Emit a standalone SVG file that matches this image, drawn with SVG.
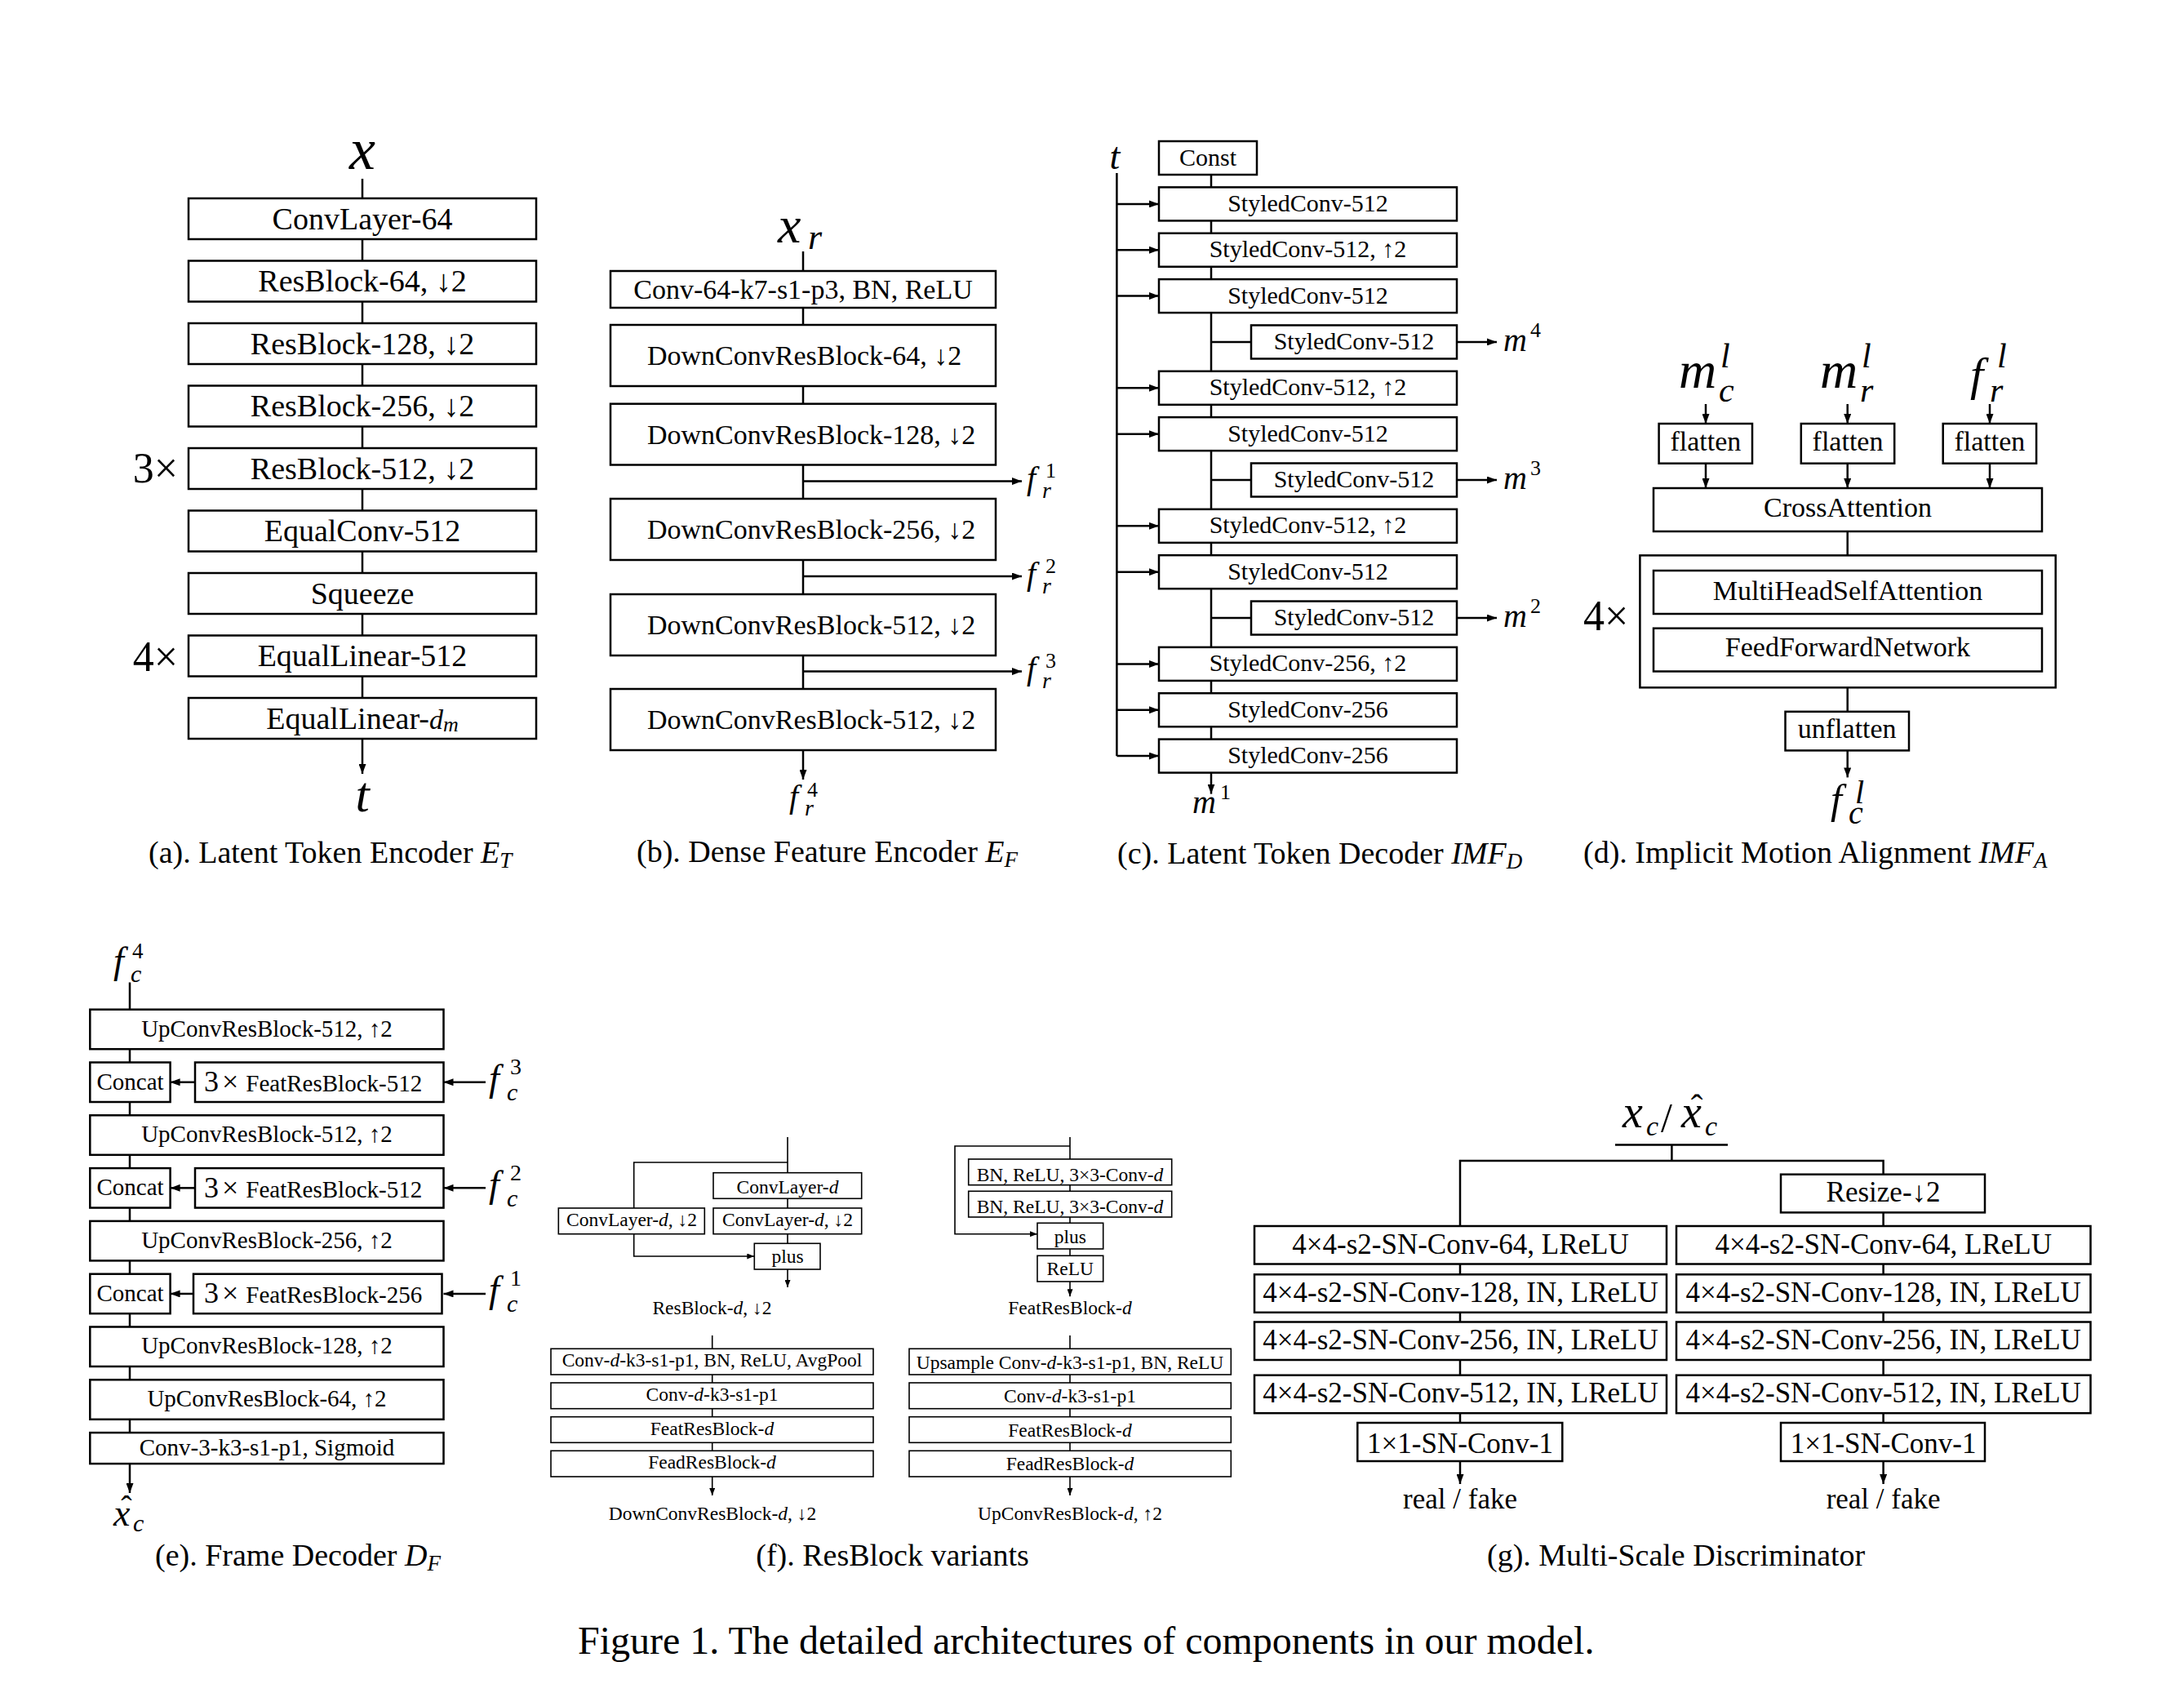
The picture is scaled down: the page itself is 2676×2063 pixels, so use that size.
<svg xmlns="http://www.w3.org/2000/svg" width="2676" height="2063" viewBox="0 0 2676 2063">
<defs>
<style>
text{font-family:"Liberation Serif","Times New Roman",serif;fill:#000}
.m{text-anchor:middle}
.i{font-style:italic}
rect.n{fill:#fff;stroke:#000;stroke-width:2.5}
rect.s{fill:#fff;stroke:#000;stroke-width:1.6}
.c{fill:none;stroke:#000;stroke-width:2.5}
.cs{fill:none;stroke:#000;stroke-width:1.6}
.a{marker-end:url(#ah)}
.as{marker-end:url(#ahs)}
.fa{font-size:38px}.fb{font-size:34px}.fc{font-size:30px}.fd{font-size:34px}.fe{font-size:29px}.ff{font-size:23.5px}.fg{font-size:35px}
.cap{font-size:38px}
</style>
<marker id="ah" viewBox="0 0 12 9" refX="12" refY="4.5" markerWidth="12" markerHeight="9" markerUnits="userSpaceOnUse" orient="auto"><path d="M0,0 L12,4.5 L0,9 z" fill="#000"/></marker>
<marker id="ahs" viewBox="0 0 9 7" refX="9" refY="3.5" markerWidth="9" markerHeight="7" markerUnits="userSpaceOnUse" orient="auto"><path d="M0,0 L9,3.5 L0,7 z" fill="#000"/></marker>
</defs>
<rect x="0" y="0" width="2676" height="2063" fill="#fff"/>

<g id="connectors">
<!-- (a) -->
<path class="c" d="M444,219V243 M444,293V319.5 M444,369.5V396 M444,446V472.5 M444,522.5V549 M444,599V625.5 M444,675.5V702 M444,752V778.5 M444,828.5V855"/>
<path class="c a" d="M444,905V948"/>
<!-- (b) -->
<path class="c" d="M984,308V332 M984,377V398 M984,473V494.7 M984,569.5V611 M984,686V728 M984,803V844"/>
<path class="c a" d="M984,919V955"/>
<path class="c a" d="M984,589.6H1252"/>
<path class="c a" d="M984,706H1252"/>
<path class="c a" d="M984,822.6H1252"/>
<!-- (c) -->
<path class="c" d="M1368.4,212V926.1"/>
<path class="c" d="M1484,214V946.5"/>
<path class="c a" d="M1368.4,249.9H1420"/>
<path class="c a" d="M1368.4,306.25H1420"/>
<path class="c a" d="M1368.4,362.6H1420"/>
<path class="c a" d="M1368.4,475.3H1420"/>
<path class="c a" d="M1368.4,531.65H1420"/>
<path class="c a" d="M1368.4,644.35H1420"/>
<path class="c a" d="M1368.4,700.7H1420"/>
<path class="c a" d="M1368.4,813.4H1420"/>
<path class="c a" d="M1368.4,869.75H1420"/>
<path class="c a" d="M1368.4,926.1H1420"/>
<path class="c" d="M1484,418.95H1533 M1484,588H1533 M1484,757.05H1533"/>
<path class="c a" d="M1785,418.95H1834"/>
<path class="c a" d="M1785,588H1834"/>
<path class="c a" d="M1785,757.05H1834"/>
<path class="c a" d="M1484,946.5V972.6"/>
<!-- (d) -->
<path class="c a" d="M2090,495V519"/>
<path class="c a" d="M2263.7,495V519"/>
<path class="c a" d="M2438,495V519"/>
<path class="c a" d="M2090,567.7V598"/>
<path class="c a" d="M2263.7,567.7V598"/>
<path class="c a" d="M2438,567.7V598"/>
<path class="c" d="M2263.7,651V680.4 M2263.7,842.3V871.8"/>
<path class="c a" d="M2263.7,919.4V952.4"/>
<!-- (e) -->
<path class="c" d="M159,1203.6V1793"/>
<path class="c a" d="M159,1793V1829"/>
<path class="c a" d="M239,1325.75H208.6"/>
<path class="c a" d="M239,1455.35H208.6"/>
<path class="c a" d="M239,1584.95H208.6"/>
<path class="c a" d="M595,1325.75H543.5"/>
<path class="c a" d="M595,1455.35H543.5"/>
<path class="c a" d="M595,1584.95H543.5"/>
<!-- (f) -->
<path class="cs" d="M965,1393V1436.7 M965,1424H776.7V1480 M965,1468.3V1480 M965,1511.7V1523.3"/>
<path class="cs as" d="M776.7,1511.7V1539H924.3"/>
<path class="cs as" d="M965,1555V1577"/>
<path class="cs" d="M872.7,1636V1652.3 M872.7,1684V1694 M872.7,1725.7V1735.7 M872.7,1767.3V1777.3"/>
<path class="cs as" d="M872.7,1809V1832"/>
<path class="cs" d="M1311,1393V1420 M1311,1451.7V1459.3 M1311,1491V1498.3 M1311,1530V1538.3"/>
<path class="cs as" d="M1311,1404H1170V1511.7H1271"/>
<path class="cs as" d="M1311,1570V1588.3"/>
<path class="cs" d="M1311,1636V1652.3 M1311,1684V1694 M1311,1725.7V1735.7 M1311,1767.3V1777.3"/>
<path class="cs as" d="M1311,1809V1832"/>
<!-- (g) -->
<path class="c" d="M1979,1402.4H2117 M2048.4,1402.4V1422 M1789,1502V1422H2307.6V1438.7 M2307.6,1485.4V1502"/>
<path class="c" d="M1789,1548.5V1561.3 M1789,1607.8V1619.5 M1789,1666V1684.7 M1789,1731.2V1743"/>
<path class="c" d="M2307.6,1548.5V1561.3 M2307.6,1607.8V1619.5 M2307.6,1666V1684.7 M2307.6,1731.2V1743"/>
<path class="c a" d="M1789,1790V1818"/>
<path class="c a" d="M2307.6,1790V1818"/>
</g>

<!-- ===== (a) Latent Token Encoder ===== -->
<g id="panel-a">
<text class="m i" x="444" y="207" font-size="72">x</text>
<g id="a1"><rect class="n" x="231" y="243" width="426" height="50"/><text class="m fa" x="444" y="280.5">ConvLayer-64</text></g>
<g id="a2"><rect class="n" x="231" y="319.5" width="426" height="50"/><text class="m fa" x="444" y="357">ResBlock-64, ↓2</text></g>
<g id="a3"><rect class="n" x="231" y="396" width="426" height="50"/><text class="m fa" x="444" y="433.5">ResBlock-128, ↓2</text></g>
<g id="a4"><rect class="n" x="231" y="472.5" width="426" height="50"/><text class="m fa" x="444" y="510">ResBlock-256, ↓2</text></g>
<g id="a5"><rect class="n" x="231" y="549" width="426" height="50"/><text class="m fa" x="444" y="586.5">ResBlock-512, ↓2</text></g>
<g id="a6"><rect class="n" x="231" y="625.5" width="426" height="50"/><text class="m fa" x="444" y="663">EqualConv-512</text></g>
<g id="a7"><rect class="n" x="231" y="702" width="426" height="50"/><text class="m fa" x="444" y="739.5">Squeeze</text></g>
<g id="a8"><rect class="n" x="231" y="778.5" width="426" height="50"/><text class="m fa" x="444" y="816">EqualLinear-512</text></g>
<g id="a9"><rect class="n" x="231" y="855" width="426" height="50"/><text class="m fa" x="444" y="892.5">EqualLinear-<tspan class="i" font-size="34">d</tspan><tspan class="i" font-size="26" dy="3">m</tspan></text></g>
<text x="218" y="591" font-size="52" text-anchor="end">3×</text>
<text x="218" y="822" font-size="52" text-anchor="end">4×</text>
<text class="m i" x="444" y="994" font-size="62">t</text>
<text class="cap" x="182" y="1057">(a). Latent Token Encoder <tspan class="i">E</tspan><tspan class="i" font-size="27" dy="6">T</tspan></text>
</g>

<!-- ===== (b) Dense Feature Encoder ===== -->
<g id="panel-b">
<text class="i" x="953" y="297" font-size="64">x</text><text class="i" x="990" y="305" font-size="44">r</text>
<g id="b1"><rect class="n" x="748" y="332" width="472" height="45"/><text class="m fb" x="984" y="366">Conv-64-k7-s1-p3, BN, ReLU</text></g>
<g id="b2"><rect class="n" x="748" y="398" width="472" height="75"/><text class="fb" x="793" y="447">DownConvResBlock-64, ↓2</text></g>
<g id="b3"><rect class="n" x="748" y="494.7" width="472" height="74.8"/><text class="fb" x="793" y="543.5">DownConvResBlock-128, ↓2</text></g>
<g id="b4"><rect class="n" x="748" y="611" width="472" height="75"/><text class="fb" x="793" y="660">DownConvResBlock-256, ↓2</text></g>
<g id="b5"><rect class="n" x="748" y="728" width="472" height="75"/><text class="fb" x="793" y="777">DownConvResBlock-512, ↓2</text></g>
<g id="b6"><rect class="n" x="748" y="844" width="472" height="75"/><text class="fb" x="793" y="893">DownConvResBlock-512, ↓2</text></g>
<text class="i" x="1258" y="599" font-size="40">f</text><text x="1281" y="585" font-size="26">1</text><text class="i" x="1277" y="610" font-size="28">r</text>
<text class="i" x="1258" y="716" font-size="40">f</text><text x="1281" y="702" font-size="26">2</text><text class="i" x="1277" y="727" font-size="28">r</text>
<text class="i" x="1258" y="832" font-size="40">f</text><text x="1281" y="818" font-size="26">3</text><text class="i" x="1277" y="843" font-size="28">r</text>
<text class="i" x="967" y="989" font-size="40">f</text><text x="989" y="976" font-size="26">4</text><text class="i" x="986" y="999" font-size="28">r</text>
<text class="cap" x="780" y="1056">(b). Dense Feature Encoder <tspan class="i">E</tspan><tspan class="i" font-size="27" dy="6">F</tspan></text>
</g>

<!-- ===== (c) Latent Token Decoder ===== -->
<g id="panel-c">
<text class="m i" x="1366" y="207" font-size="46">t</text>
<g id="c0"><rect class="n" x="1420" y="173" width="120" height="41"/><text class="m fc" x="1480" y="203">Const</text></g>
<g id="c1"><rect class="n" x="1420" y="229.4" width="365" height="41"/><text class="m fc" x="1602.5" y="258.9">StyledConv-512</text></g>
<g id="c2"><rect class="n" x="1420" y="285.75" width="365" height="41"/><text class="m fc" x="1602.5" y="315.25">StyledConv-512, ↑2</text></g>
<g id="c3"><rect class="n" x="1420" y="342.1" width="365" height="41"/><text class="m fc" x="1602.5" y="371.6">StyledConv-512</text></g>
<g id="c4"><rect class="n" x="1533" y="398.45" width="252" height="41"/><text class="m fc" x="1659" y="427.95">StyledConv-512</text></g>
<g id="c5"><rect class="n" x="1420" y="454.8" width="365" height="41"/><text class="m fc" x="1602.5" y="484.3">StyledConv-512, ↑2</text></g>
<g id="c6"><rect class="n" x="1420" y="511.15" width="365" height="41"/><text class="m fc" x="1602.5" y="540.65">StyledConv-512</text></g>
<g id="c7"><rect class="n" x="1533" y="567.5" width="252" height="41"/><text class="m fc" x="1659" y="597">StyledConv-512</text></g>
<g id="c8"><rect class="n" x="1420" y="623.85" width="365" height="41"/><text class="m fc" x="1602.5" y="653.35">StyledConv-512, ↑2</text></g>
<g id="c9"><rect class="n" x="1420" y="680.2" width="365" height="41"/><text class="m fc" x="1602.5" y="709.7">StyledConv-512</text></g>
<g id="c10"><rect class="n" x="1533" y="736.55" width="252" height="41"/><text class="m fc" x="1659" y="766.05">StyledConv-512</text></g>
<g id="c11"><rect class="n" x="1420" y="792.9" width="365" height="41"/><text class="m fc" x="1602.5" y="822.4">StyledConv-256, ↑2</text></g>
<g id="c12"><rect class="n" x="1420" y="849.25" width="365" height="41"/><text class="m fc" x="1602.5" y="878.75">StyledConv-256</text></g>
<g id="c13"><rect class="n" x="1420" y="905.6" width="365" height="41"/><text class="m fc" x="1602.5" y="935.1">StyledConv-256</text></g>
<text class="i" x="1842" y="430" font-size="40">m</text><text x="1875" y="413" font-size="26">4</text>
<text class="i" x="1842" y="599" font-size="40">m</text><text x="1875" y="582" font-size="26">3</text>
<text class="i" x="1842" y="768" font-size="40">m</text><text x="1875" y="751" font-size="26">2</text>
<text class="i" x="1461" y="996" font-size="40">m</text><text x="1495" y="979" font-size="26">1</text>
<text class="cap" x="1369" y="1058">(c). Latent Token Decoder <tspan class="i">IMF</tspan><tspan class="i" font-size="27" dy="6">D</tspan></text>
</g>

<!-- ===== (d) Implicit Motion Alignment ===== -->
<g id="panel-d">
<text class="i" x="2057" y="475" font-size="64">m</text><text class="i" x="2108" y="450" font-size="42">l</text><text class="i" x="2106" y="492" font-size="42">c</text>
<text class="i" x="2230" y="475" font-size="64">m</text><text class="i" x="2281" y="450" font-size="42">l</text><text class="i" x="2279" y="492" font-size="42">r</text>
<text class="i" x="2414" y="478" font-size="58">f</text><text class="i" x="2447" y="450" font-size="42">l</text><text class="i" x="2438" y="492" font-size="42">r</text>
<g id="d1"><rect class="n" x="2032.6" y="519" width="114.4" height="48.7"/><text class="m fd" x="2089.8" y="552">flatten</text></g>
<g id="d2"><rect class="n" x="2206.8" y="519" width="114.4" height="48.7"/><text class="m fd" x="2264" y="552">flatten</text></g>
<g id="d3"><rect class="n" x="2380.7" y="519" width="114.4" height="48.7"/><text class="m fd" x="2437.9" y="552">flatten</text></g>
<g id="d4"><rect class="n" x="2026" y="598" width="476" height="53"/><text class="m fd" x="2264" y="633">CrossAttention</text></g>
<g id="d5"><rect class="n" x="2009.4" y="680.4" width="509.3" height="161.9"/>
<rect class="n" x="2026" y="699" width="476" height="53"/><text class="m fd" x="2264" y="734.5">MultiHeadSelfAttention</text>
<rect class="n" x="2026" y="769.7" width="476" height="52.8"/><text class="m fd" x="2264" y="804">FeedForwardNetwork</text></g>
<text x="1940" y="772" font-size="52">4×</text>
<g id="d6"><rect class="n" x="2187.5" y="871.8" width="151.5" height="47.6"/><text class="m fd" x="2263.2" y="904">unflatten</text></g>
<text class="i" x="2243" y="996" font-size="50">f</text><text class="i" x="2273" y="984" font-size="40">l</text><text class="i" x="2265" y="1009" font-size="40">c</text>
<text class="cap" x="1940" y="1057">(d). Implicit Motion Alignment <tspan class="i">IMF</tspan><tspan class="i" font-size="27" dy="6">A</tspan></text>
</g>

<!-- ===== (e) Frame Decoder ===== -->
<g id="panel-e">
<text class="i" x="139" y="1192" font-size="46">f</text><text x="162" y="1174" font-size="27">4</text><text class="i" x="160" y="1203" font-size="30">c</text>
<g id="e1"><rect class="n" x="110.3" y="1236.7" width="433.2" height="48.5"/><text class="m fe" x="327" y="1269.5">UpConvResBlock-512, ↑2</text></g>
<g id="e2a"><rect class="n" x="110.3" y="1301.5" width="98.3" height="48.5"/><text class="m fe" x="159.5" y="1334.5">Concat</text></g>
<g id="e2b"><rect class="n" x="239" y="1301.5" width="304.5" height="48.5"/><text x="250" y="1337"><tspan font-size="36">3</tspan><tspan font-size="36" dx="4">×</tspan><tspan font-size="29" dx="9">FeatResBlock-512</tspan></text></g>
<g id="e3"><rect class="n" x="110.3" y="1366.3" width="433.2" height="48.5"/><text class="m fe" x="327" y="1399">UpConvResBlock-512, ↑2</text></g>
<g id="e4a"><rect class="n" x="110.3" y="1431.1" width="98.3" height="48.5"/><text class="m fe" x="159.5" y="1464">Concat</text></g>
<g id="e4b"><rect class="n" x="239" y="1431.1" width="304.5" height="48.5"/><text x="250" y="1466.5"><tspan font-size="36">3</tspan><tspan font-size="36" dx="4">×</tspan><tspan font-size="29" dx="9">FeatResBlock-512</tspan></text></g>
<g id="e5"><rect class="n" x="110.3" y="1495.9" width="433.2" height="48.5"/><text class="m fe" x="327" y="1528.7">UpConvResBlock-256, ↑2</text></g>
<g id="e6a"><rect class="n" x="110.3" y="1560.7" width="98.3" height="48.5"/><text class="m fe" x="159.5" y="1593.5">Concat</text></g>
<g id="e6b"><rect class="n" x="237" y="1560.7" width="304.5" height="48.5"/><text x="250" y="1596"><tspan font-size="36">3</tspan><tspan font-size="36" dx="4">×</tspan><tspan font-size="29" dx="9">FeatResBlock-256</tspan></text></g>
<g id="e7"><rect class="n" x="110.3" y="1625.5" width="433.2" height="48.5"/><text class="m fe" x="327" y="1658.3">UpConvResBlock-128, ↑2</text></g>
<g id="e8"><rect class="n" x="110.3" y="1690.3" width="433.2" height="48.5"/><text class="m fe" x="327" y="1723">UpConvResBlock-64, ↑2</text></g>
<g id="e9"><rect class="n" x="110.3" y="1755.1" width="433.2" height="38"/><text class="m fe" x="327" y="1783">Conv-3-k3-s1-p1, Sigmoid</text></g>
<text class="i" x="599" y="1336" font-size="46">f</text><text x="625" y="1316" font-size="28">3</text><text class="i" x="621" y="1348" font-size="30">c</text>
<text class="i" x="599" y="1465.5" font-size="46">f</text><text x="625" y="1445.5" font-size="28">2</text><text class="i" x="621" y="1477.5" font-size="30">c</text>
<text class="i" x="599" y="1595" font-size="46">f</text><text x="625" y="1575" font-size="28">1</text><text class="i" x="621" y="1607" font-size="30">c</text>
<text class="i" x="139" y="1869" font-size="46">x</text><text class="m" x="155" y="1860" font-size="40">ˆ</text><text class="i" x="163" y="1876" font-size="30">c</text>
<text class="cap" x="190" y="1918">(e). Frame Decoder <tspan class="i">D</tspan><tspan class="i" font-size="27" dy="6">F</tspan></text>
</g>

<!-- ===== (f) ResBlock variants ===== -->
<g id="panel-f">
<g id="f1"><rect class="s" x="874" y="1436.7" width="181.7" height="31.6"/><text class="m ff" x="965" y="1461.5">ConvLayer-<tspan class="i">d</tspan></text></g>
<g id="f2"><rect class="s" x="874" y="1480" width="181.7" height="31.7"/><text class="m ff" x="965" y="1501.7">ConvLayer-<tspan class="i">d</tspan>, ↓2</text></g>
<g id="f3"><rect class="s" x="684.3" y="1480" width="179" height="31.7"/><text class="m ff" x="774" y="1501.7">ConvLayer-<tspan class="i">d</tspan>, ↓2</text></g>
<g id="f4"><rect class="s" x="924.3" y="1523.3" width="80.7" height="31.7"/><text class="m ff" x="965" y="1546.5">plus</text></g>
<text class="m ff" x="872.5" y="1610">ResBlock-<tspan class="i">d</tspan>, ↓2</text>
<g id="f5"><rect class="s" x="675" y="1652.3" width="395" height="31.7"/><text class="m ff" x="872.5" y="1674">Conv-<tspan class="i">d</tspan>-k3-s1-p1, BN, ReLU, AvgPool</text></g>
<g id="f6"><rect class="s" x="675" y="1694" width="395" height="31.7"/><text class="m ff" x="872.5" y="1716">Conv-<tspan class="i">d</tspan>-k3-s1-p1</text></g>
<g id="f7"><rect class="s" x="675" y="1735.7" width="395" height="31.6"/><text class="m ff" x="872.5" y="1757.5">FeatResBlock-<tspan class="i">d</tspan></text></g>
<g id="f8"><rect class="s" x="675" y="1777.3" width="395" height="31.7"/><text class="m ff" x="872.5" y="1799">FeadResBlock-<tspan class="i">d</tspan></text></g>
<text class="m ff" x="873" y="1862">DownConvResBlock-<tspan class="i">d</tspan>, ↓2</text>
<g id="f9"><rect class="s" x="1186.7" y="1420" width="249" height="31.7"/><text class="m ff" x="1311" y="1446.5">BN, ReLU, 3×3-Conv-<tspan class="i">d</tspan></text></g>
<g id="f10"><rect class="s" x="1186.7" y="1459.3" width="249" height="31.7"/><text class="m ff" x="1311" y="1486">BN, ReLU, 3×3-Conv-<tspan class="i">d</tspan></text></g>
<g id="f11"><rect class="s" x="1271" y="1498.3" width="80.7" height="31.7"/><text class="m ff" x="1311.3" y="1523">plus</text></g>
<g id="f12"><rect class="s" x="1271" y="1538.3" width="80.7" height="31.7"/><text class="m ff" x="1311.3" y="1561.5">ReLU</text></g>
<text class="m ff" x="1311" y="1610">FeatResBlock-<tspan class="i">d</tspan></text>
<g id="f13"><rect class="s" x="1114" y="1652.3" width="394.3" height="31.7"/><text class="m ff" x="1311" y="1676.5">Upsample Conv-<tspan class="i">d</tspan>-k3-s1-p1, BN, ReLU</text></g>
<g id="f14"><rect class="s" x="1114" y="1694" width="394.3" height="31.7"/><text class="m ff" x="1311" y="1718">Conv-<tspan class="i">d</tspan>-k3-s1-p1</text></g>
<g id="f15"><rect class="s" x="1114" y="1735.7" width="394.3" height="31.6"/><text class="m ff" x="1311" y="1759.5">FeatResBlock-<tspan class="i">d</tspan></text></g>
<g id="f16"><rect class="s" x="1114" y="1777.3" width="394.3" height="31.7"/><text class="m ff" x="1311" y="1800.5">FeadResBlock-<tspan class="i">d</tspan></text></g>
<text class="m ff" x="1311" y="1862">UpConvResBlock-<tspan class="i">d</tspan>, ↑2</text>
<text class="cap m" x="1093.5" y="1918">(f). ResBlock variants</text>
</g>

<!-- ===== (g) Multi-Scale Discriminator ===== -->
<g id="panel-g">
<text class="i" x="1988" y="1381" font-size="56">x</text><text class="i" x="2017" y="1391" font-size="34">c</text>
<text x="2035" y="1386" font-size="50">/</text>
<text class="i" x="2060" y="1381" font-size="56">x</text><text class="m" x="2079" y="1371" font-size="44">ˆ</text><text class="i" x="2089" y="1391" font-size="34">c</text>
<g id="g0"><rect class="n" x="2182" y="1438.7" width="250" height="46.7"/><text class="m fg" x="2307.6" y="1472.3">Resize-↓2</text></g>
<g id="g1"><rect class="n" x="1537" y="1502" width="505" height="46.5"/><text class="m fg" x="1789.5" y="1535.6">4×4-s2-SN-Conv-64, LReLU</text></g>
<g id="g2"><rect class="n" x="1537" y="1561.3" width="505" height="46.5"/><text class="m fg" x="1789.5" y="1595">4×4-s2-SN-Conv-128, IN, LReLU</text></g>
<g id="g3"><rect class="n" x="1537" y="1619.5" width="505" height="46.5"/><text class="m fg" x="1789.5" y="1653.4">4×4-s2-SN-Conv-256, IN, LReLU</text></g>
<g id="g4"><rect class="n" x="1537" y="1684.7" width="505" height="46.5"/><text class="m fg" x="1789.5" y="1717.5">4×4-s2-SN-Conv-512, IN, LReLU</text></g>
<g id="g5"><rect class="n" x="1663.3" y="1743" width="251" height="47"/><text class="m fg" x="1789" y="1780">1×1-SN-Conv-1</text></g>
<g id="g6"><rect class="n" x="2054" y="1502" width="507.5" height="46.5"/><text class="m fg" x="2307.7" y="1535.6">4×4-s2-SN-Conv-64, LReLU</text></g>
<g id="g7"><rect class="n" x="2054" y="1561.3" width="507.5" height="46.5"/><text class="m fg" x="2307.7" y="1595">4×4-s2-SN-Conv-128, IN, LReLU</text></g>
<g id="g8"><rect class="n" x="2054" y="1619.5" width="507.5" height="46.5"/><text class="m fg" x="2307.7" y="1653.4">4×4-s2-SN-Conv-256, IN, LReLU</text></g>
<g id="g9"><rect class="n" x="2054" y="1684.7" width="507.5" height="46.5"/><text class="m fg" x="2307.7" y="1717.5">4×4-s2-SN-Conv-512, IN, LReLU</text></g>
<g id="g10"><rect class="n" x="2182" y="1743" width="250" height="47"/><text class="m fg" x="2307.6" y="1780">1×1-SN-Conv-1</text></g>
<text class="m fg" x="1789" y="1848">real / fake</text>
<text class="m fg" x="2307.6" y="1848">real / fake</text>
<text class="cap" x="1822" y="1918">(g). Multi-Scale Discriminator</text>
</g>

<text id="figure-caption" x="708" y="2026" font-size="48">Figure 1. The detailed architectures of components in our model.</text>
</svg>
